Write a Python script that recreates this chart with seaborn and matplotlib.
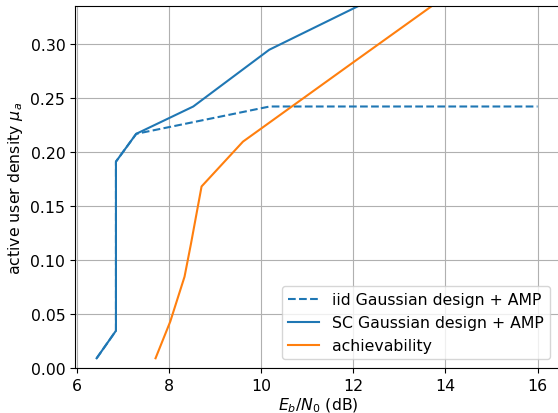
import matplotlib
matplotlib.use("Agg")
import matplotlib.pyplot as plt
import seaborn as sns
import pandas as pd

# iid Gaussian design + AMP (dashed)
iid_x = [6.42, 6.84, 6.84, 7.28, 10.18, 16.0]
iid_y = [0.009, 0.0345, 0.191, 0.2167, 0.242, 0.242]
# SC Gaussian design + AMP
sc_x = [6.42, 6.84, 6.84, 7.28, 8.52, 10.17, 12.3]
sc_y = [0.009, 0.0345, 0.191, 0.2167, 0.242, 0.2945, 0.339]
# achievability
ach_x = [7.70, 8.02, 8.33, 8.47, 8.70, 9.60, 12.0, 14.0]
ach_y = [0.009, 0.043, 0.0845, 0.115, 0.168, 0.2095, 0.283, 0.344]

labels = ["iid Gaussian design + AMP", "SC Gaussian design + AMP", "achievability"]

FS = 11.3
fig = plt.figure(figsize=(5.58, 4.14), dpi=100)
W, H = 558, 414
ax = fig.add_axes([75 / W, (H - 369) / H, (561 - 75) / W, (369 - 7) / H])

blue, orange = "#1f77b4", "#ff7f0e"
d1 = pd.DataFrame({"x": iid_x, "y": iid_y})
d2 = pd.DataFrame({"x": sc_x, "y": sc_y})
d3 = pd.DataFrame({"x": ach_x, "y": ach_y})
sns.lineplot(data=d1, x="x", y="y", ax=ax, sort=False, estimator=None,
             color=blue, linestyle="--", linewidth=1.5, label=labels[0])
sns.lineplot(data=d2, x="x", y="y", ax=ax, sort=False, estimator=None,
             color=blue, linewidth=1.5, label=labels[1])
sns.lineplot(data=d3, x="x", y="y", ax=ax, sort=False, estimator=None,
             color=orange, linewidth=1.5, label=labels[2])

ax.set_xlim(5.95, 16.51)
ax.set_ylim(0, 0.335)
ax.set_xticks([6, 8, 10, 12, 14, 16])
ax.set_yticks([0.0, 0.05, 0.10, 0.15, 0.20, 0.25, 0.30])
ax.set_yticklabels(["0.00", "0.05", "0.10", "0.15", "0.20", "0.25", "0.30"])
ax.grid(True, color="#b0b0b0", linewidth=0.8)
ax.set_axisbelow(True)
ax.set_xlabel("$E_b/N_0$ (dB)", fontsize=FS, labelpad=2.0)
ax.set_ylabel("active user density $\\mu_a$", fontsize=FS)
ax.tick_params(labelsize=FS)
ax.legend(loc="lower right", fontsize=FS, bbox_to_anchor=(0.995, 0.0), borderaxespad=0.55)

fig.savefig("out.png", dpi=100)
